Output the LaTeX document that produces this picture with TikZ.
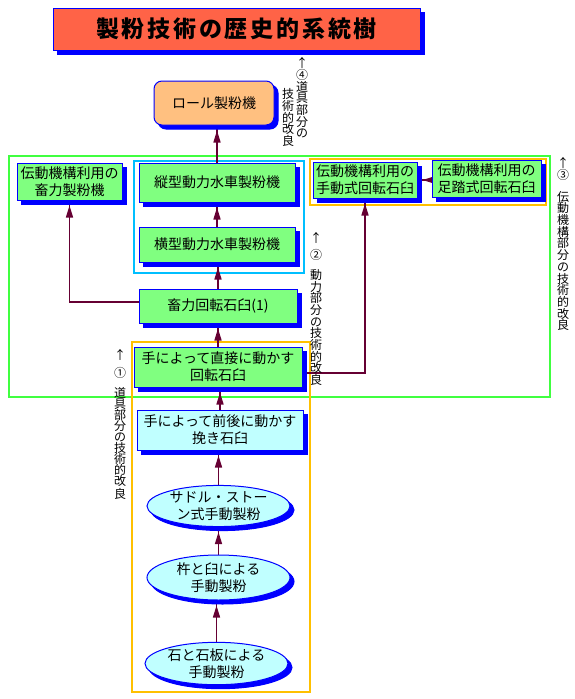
\documentclass[tikz,border=0pt]{standalone}
\usepackage{fontspec}
\setmainfont{Noto Sans CJK JP}
\newfontfamily\ttlfont[LetterSpace=12]{Noto Sans CJK JP}
\usetikzlibrary{shapes.geometric,shadows,decorations.markings,arrows.meta}
\definecolor{gfill}{HTML}{80FF80}
\definecolor{cfill}{HTML}{C0FFFF}
\definecolor{rfill}{HTML}{FFC080}
\definecolor{tfill}{HTML}{FF6347}
\definecolor{frgreen}{HTML}{40FF40}
\definecolor{frcyan}{HTML}{00BFFF}
\definecolor{frorange}{HTML}{FFC000}
\definecolor{conncol}{HTML}{660033}
\pgfdeclarelayer{background}
\pgfsetlayers{background,main}
\begin{document}
\begin{tikzpicture}[x=1pt,y=-1pt,
  basebox/.style={draw=blue, line width=1pt, inner sep=0pt, align=center,
    font=\fontsize{14}{17}\selectfont,
    copy shadow={shadow xshift=4pt, shadow yshift=-4pt, fill=blue, draw=blue}},
  gbox/.style={basebox, fill=gfill},
  cbox/.style={basebox, fill=cfill},
  cell/.style={basebox, ellipse, fill=cfill},
  frame/.style={line width=2.5pt},
  conn/.style={draw=conncol, color=conncol, line width=1.5pt, postaction=decorate,
    decoration={markings, mark=at position -5pt with {\arrow{Triangle[width=7pt,length=12pt]}}}},
  vtext/.style={inner sep=0pt, align=center, font=\fontsize{12}{11.7}\selectfont}
]
\useasboundingbox (0,0) rectangle (575,699);

% title
\node[draw=blue, line width=1pt, fill=tfill, minimum width=367pt, minimum height=42pt,
  copy shadow={shadow xshift=4pt, shadow yshift=-4pt, fill=blue, draw=blue},
  font=\ttlfont\bfseries\fontsize{23}{26}\selectfont] (title) at (236.5,29) {製粉技術の歴史的系統樹};

% nodes
\node[gbox, fill=rfill, rounded corners=8pt, minimum width=120pt, minimum height=44pt] (roll) at (214,103) {ロール製粉機};
\node[gbox, minimum width=105pt, minimum height=37pt] (seifun) at (69.5,181.5) {伝動機構利用の\\畜力製粉機};
\node[gbox, minimum width=156pt, minimum height=39pt] (tate) at (217,182.5) {縦型動力水車製粉機};
\node[gbox, minimum width=156pt, minimum height=35pt] (yoko) at (217,244.5) {横型動力水車製粉機};
\node[gbox, minimum width=104pt, minimum height=36pt] (shudo) at (365,180) {伝動機構利用の\\手動式回転石臼};
\node[gbox, minimum width=109pt, minimum height=37pt] (ashi) at (486.5,178.5) {伝動機構利用の\\足踏式回転石臼};
\node[gbox, minimum width=158pt, minimum height=34pt] (ck) at (218,306) {畜力回転石臼(1)};
\node[gbox, minimum width=168pt, minimum height=40pt] (choku) at (218,367) {手によって直接に動かす\\回転石臼};
\node[cbox, minimum width=166pt, minimum height=40pt] (zengo) at (220,430) {手によって前後に動かす\\挽き石臼};
\node[cell, minimum width=143pt, minimum height=38pt] (saddle) at (218.5,506) {サドル・ストー\\ン式手動製粉};
\node[cell, minimum width=143pt, minimum height=45pt] (kine) at (218.5,577.5) {杵と臼による\\手動製粉};
\node[cell, minimum width=143pt, minimum height=41pt] (ishi) at (216.5,663.5) {石と石板による\\手動製粉};

% vertical labels
\node[vtext] (v4a) at (302,98) {↑\\④\\道\\具\\部\\分\\の};
\node[vtext] (v4b) at (288,117.5) {技\\術\\的\\改\\良};
\node[vtext] (v3a) at (563,169) {↑\\③};
\node[vtext] (v3b) at (563,261) {伝\\動\\機\\構\\部\\分\\の\\技\\術\\的\\改\\良};
\node[vtext] (v2a) at (316,246.5) {↑\\[5.3pt]②};
\node[vtext] (v2b) at (316,327.5) {動\\力\\部\\分\\の\\技\\術\\的\\改\\良};
\node[vtext] (v1a) at (120,364) {↑\\[6.3pt]①};
\node[vtext, font=\fontsize{12}{11.1}\selectfont] (v1b) at (120,443) {道\\具\\部\\分\\の\\技\\術\\的\\改\\良};

\begin{pgfonlayer}{background}
% frames
\draw[frame, frgreen] (9,156) rectangle (550,397);
\draw[frame, frcyan] (134,161) rectangle (304,273);
\draw[frame, frorange] (310,159) rectangle (546,205);
\draw[frame, frorange] (132,342) rectangle (310,692);
% connectors
\draw[conn] (ishi.north) -- (ishi.north |- kine.south);
\draw[conn] (kine.north) -- (kine.north |- saddle.south);
\draw[conn] (saddle.north) -- (saddle.north |- zengo.south);
\draw[conn] (zengo.north) -- (zengo.north |- choku.south);
\draw[conn] (choku.north) -- (choku.north |- ck.south);
\draw[conn] (ck.north) -- (ck.north |- yoko.south);
\draw[conn] (yoko.north) -- (yoko.north |- tate.south);
\draw[conn] (tate.north) -- (tate.north |- roll.south);
\draw[conn] ([yshift=4pt]ck.west) -| (seifun.south);
\draw[conn] ([yshift=-6pt]choku.east) -| (shudo.south);
\draw[conn] (shudo.east -| ashi.west) -- (shudo.east);
\end{pgfonlayer}
\end{tikzpicture}
\end{document}
